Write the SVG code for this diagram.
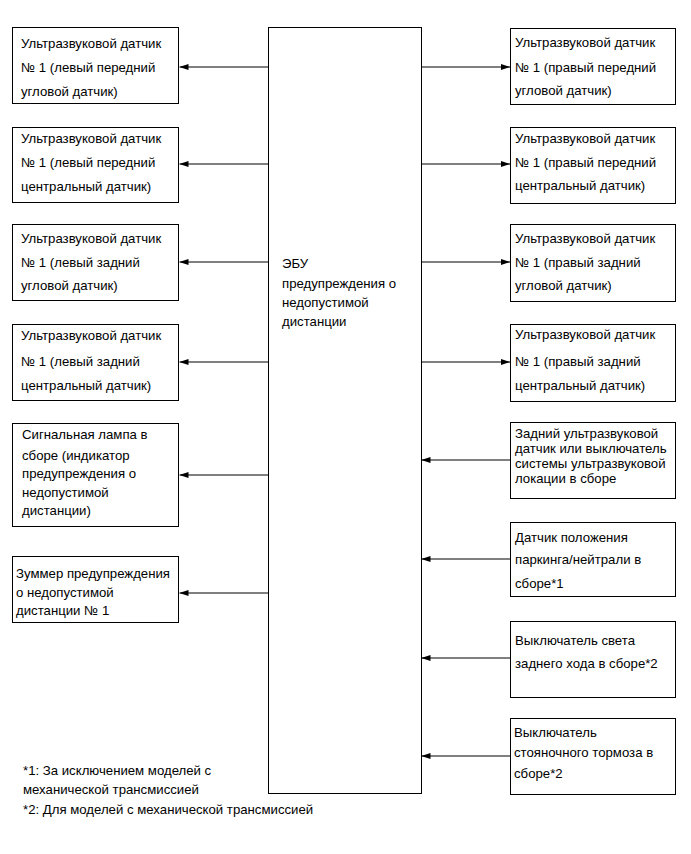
<svg xmlns="http://www.w3.org/2000/svg" width="691" height="854" viewBox="0 0 691 854">
<defs>
<style>
.box{fill:#fff;stroke:#000;stroke-width:1}
.ln{stroke:#000;stroke-width:1;fill:none;marker-end:url(#ah)}
text{font-family:"Liberation Sans",Arial,sans-serif;font-size:13.2px;fill:#000}
</style>
<marker id="ah" markerUnits="userSpaceOnUse" markerWidth="9" markerHeight="6" refX="9" refY="3" orient="auto">
<path d="M0,0 L9,3 L0,6 z" fill="#000"/>
</marker>
</defs>
<rect width="691" height="854" fill="#fff"/>
<g id="connectors">
<line class="ln" x1="268" y1="67" x2="179.5" y2="67"/>
<line class="ln" x1="268" y1="164" x2="179.5" y2="164"/>
<line class="ln" x1="268" y1="262" x2="179.5" y2="262"/>
<line class="ln" x1="268" y1="362" x2="179.5" y2="362"/>
<line class="ln" x1="268" y1="475" x2="179.5" y2="475"/>
<line class="ln" x1="268" y1="593" x2="179.5" y2="593"/>
<line class="ln" x1="421" y1="67" x2="510" y2="67"/>
<line class="ln" x1="421" y1="164" x2="510" y2="164"/>
<line class="ln" x1="421" y1="262" x2="510" y2="262"/>
<line class="ln" x1="421" y1="362" x2="510" y2="362"/>
<line class="ln" x1="510" y1="460" x2="421.5" y2="460"/>
<line class="ln" x1="510" y1="559" x2="421.5" y2="559"/>
<line class="ln" x1="510" y1="658" x2="421.5" y2="658"/>
<line class="ln" x1="510" y1="756" x2="421.5" y2="756"/>
</g>
<g id="ecu">
<rect class="box" x="268.5" y="27.5" width="153" height="766"/>
<text x="282" y="268">ЭБУ</text>
<text x="282" y="288">предупреждения о</text>
<text x="282" y="307">недопустимой</text>
<text x="282" y="326">дистанции</text>
</g>
<g id="l1">
<rect class="box" x="12.5" y="27.5" width="166" height="76"/>
<text x="21" y="48">Ультразвуковой датчик</text>
<text x="21" y="72">№ 1 (левый передний</text>
<text x="21" y="96">угловой датчик)</text>
</g>
<g id="l2">
<rect class="box" x="12.5" y="127.5" width="166" height="75"/>
<text x="21" y="143">Ультразвуковой датчик</text>
<text x="21" y="167">№ 1 (левый передний</text>
<text x="21" y="191">центральный датчик)</text>
</g>
<g id="l3">
<rect class="box" x="12.5" y="224.5" width="166" height="76"/>
<text x="21" y="243">Ультразвуковой датчик</text>
<text x="21" y="267">№ 1 (левый задний</text>
<text x="21" y="290">угловой датчик)</text>
</g>
<g id="l4">
<rect class="box" x="12.5" y="324.5" width="166" height="76"/>
<text x="21" y="340">Ультразвуковой датчик</text>
<text x="21" y="366">№ 1 (левый задний</text>
<text x="21" y="390">центральный датчик)</text>
</g>
<g id="l5">
<rect class="box" x="12.5" y="423.5" width="166" height="103"/>
<text x="22" y="439">Сигнальная лампа в</text>
<text x="22" y="460">сборе (индикатор</text>
<text x="22" y="478">предупреждения о</text>
<text x="22" y="497">недопустимой</text>
<text x="22" y="515">дистанции)</text>
</g>
<g id="l6">
<rect class="box" x="12.5" y="556.5" width="166" height="66"/>
<text x="16" y="578">Зуммер предупреждения</text>
<text x="16" y="597">о недопустимой</text>
<text x="16" y="615">дистанции № 1</text>
</g>
<g id="r1">
<rect class="box" x="510.5" y="28.5" width="165" height="76"/>
<text x="515" y="47">Ультразвуковой датчик</text>
<text x="515" y="72">№ 1 (правый передний</text>
<text x="515" y="95">угловой датчик)</text>
</g>
<g id="r2">
<rect class="box" x="510.5" y="127.5" width="165" height="76"/>
<text x="515" y="143">Ультразвуковой датчик</text>
<text x="515" y="167">№ 1 (правый передний</text>
<text x="515" y="190">центральный датчик)</text>
</g>
<g id="r3">
<rect class="box" x="510.5" y="224.5" width="165" height="77"/>
<text x="515" y="243">Ультразвуковой датчик</text>
<text x="515" y="267">№ 1 (правый задний</text>
<text x="515" y="290">угловой датчик)</text>
</g>
<g id="r4">
<rect class="box" x="510.5" y="324.5" width="165" height="77"/>
<text x="515" y="339">Ультразвуковой датчик</text>
<text x="515" y="366">№ 1 (правый задний</text>
<text x="515" y="390">центральный датчик)</text>
</g>
<g id="r5">
<rect class="box" x="510.5" y="422.5" width="165" height="76"/>
<text x="515" y="438">Задний ультразвуковой</text>
<text x="515" y="453">датчик или выключатель</text>
<text x="515" y="468">системы ультразвуковой</text>
<text x="515" y="483">локации в сборе</text>
</g>
<g id="r6">
<rect class="box" x="510.5" y="522.5" width="165" height="74"/>
<text x="515" y="542">Датчик положения</text>
<text x="515" y="564">паркинга/нейтрали в</text>
<text x="515" y="588">сборе*1</text>
</g>
<g id="r7">
<rect class="box" x="510.5" y="621.5" width="165" height="76"/>
<text x="515" y="645">Выключатель света</text>
<text x="515" y="668">заднего хода в сборе*2</text>
</g>
<g id="r8">
<rect class="box" x="510.5" y="718.5" width="165" height="76"/>
<text x="514" y="737">Выключатель</text>
<text x="514" y="757">стояночного тормоза в</text>
<text x="514" y="778">сборе*2</text>
</g>
<g id="notes">
<text x="23" y="775">*1: За исключением моделей с</text>
<text x="23" y="794">механической трансмиссией</text>
<text x="23" y="814">*2: Для моделей с механической трансмиссией</text>
</g>
</svg>
